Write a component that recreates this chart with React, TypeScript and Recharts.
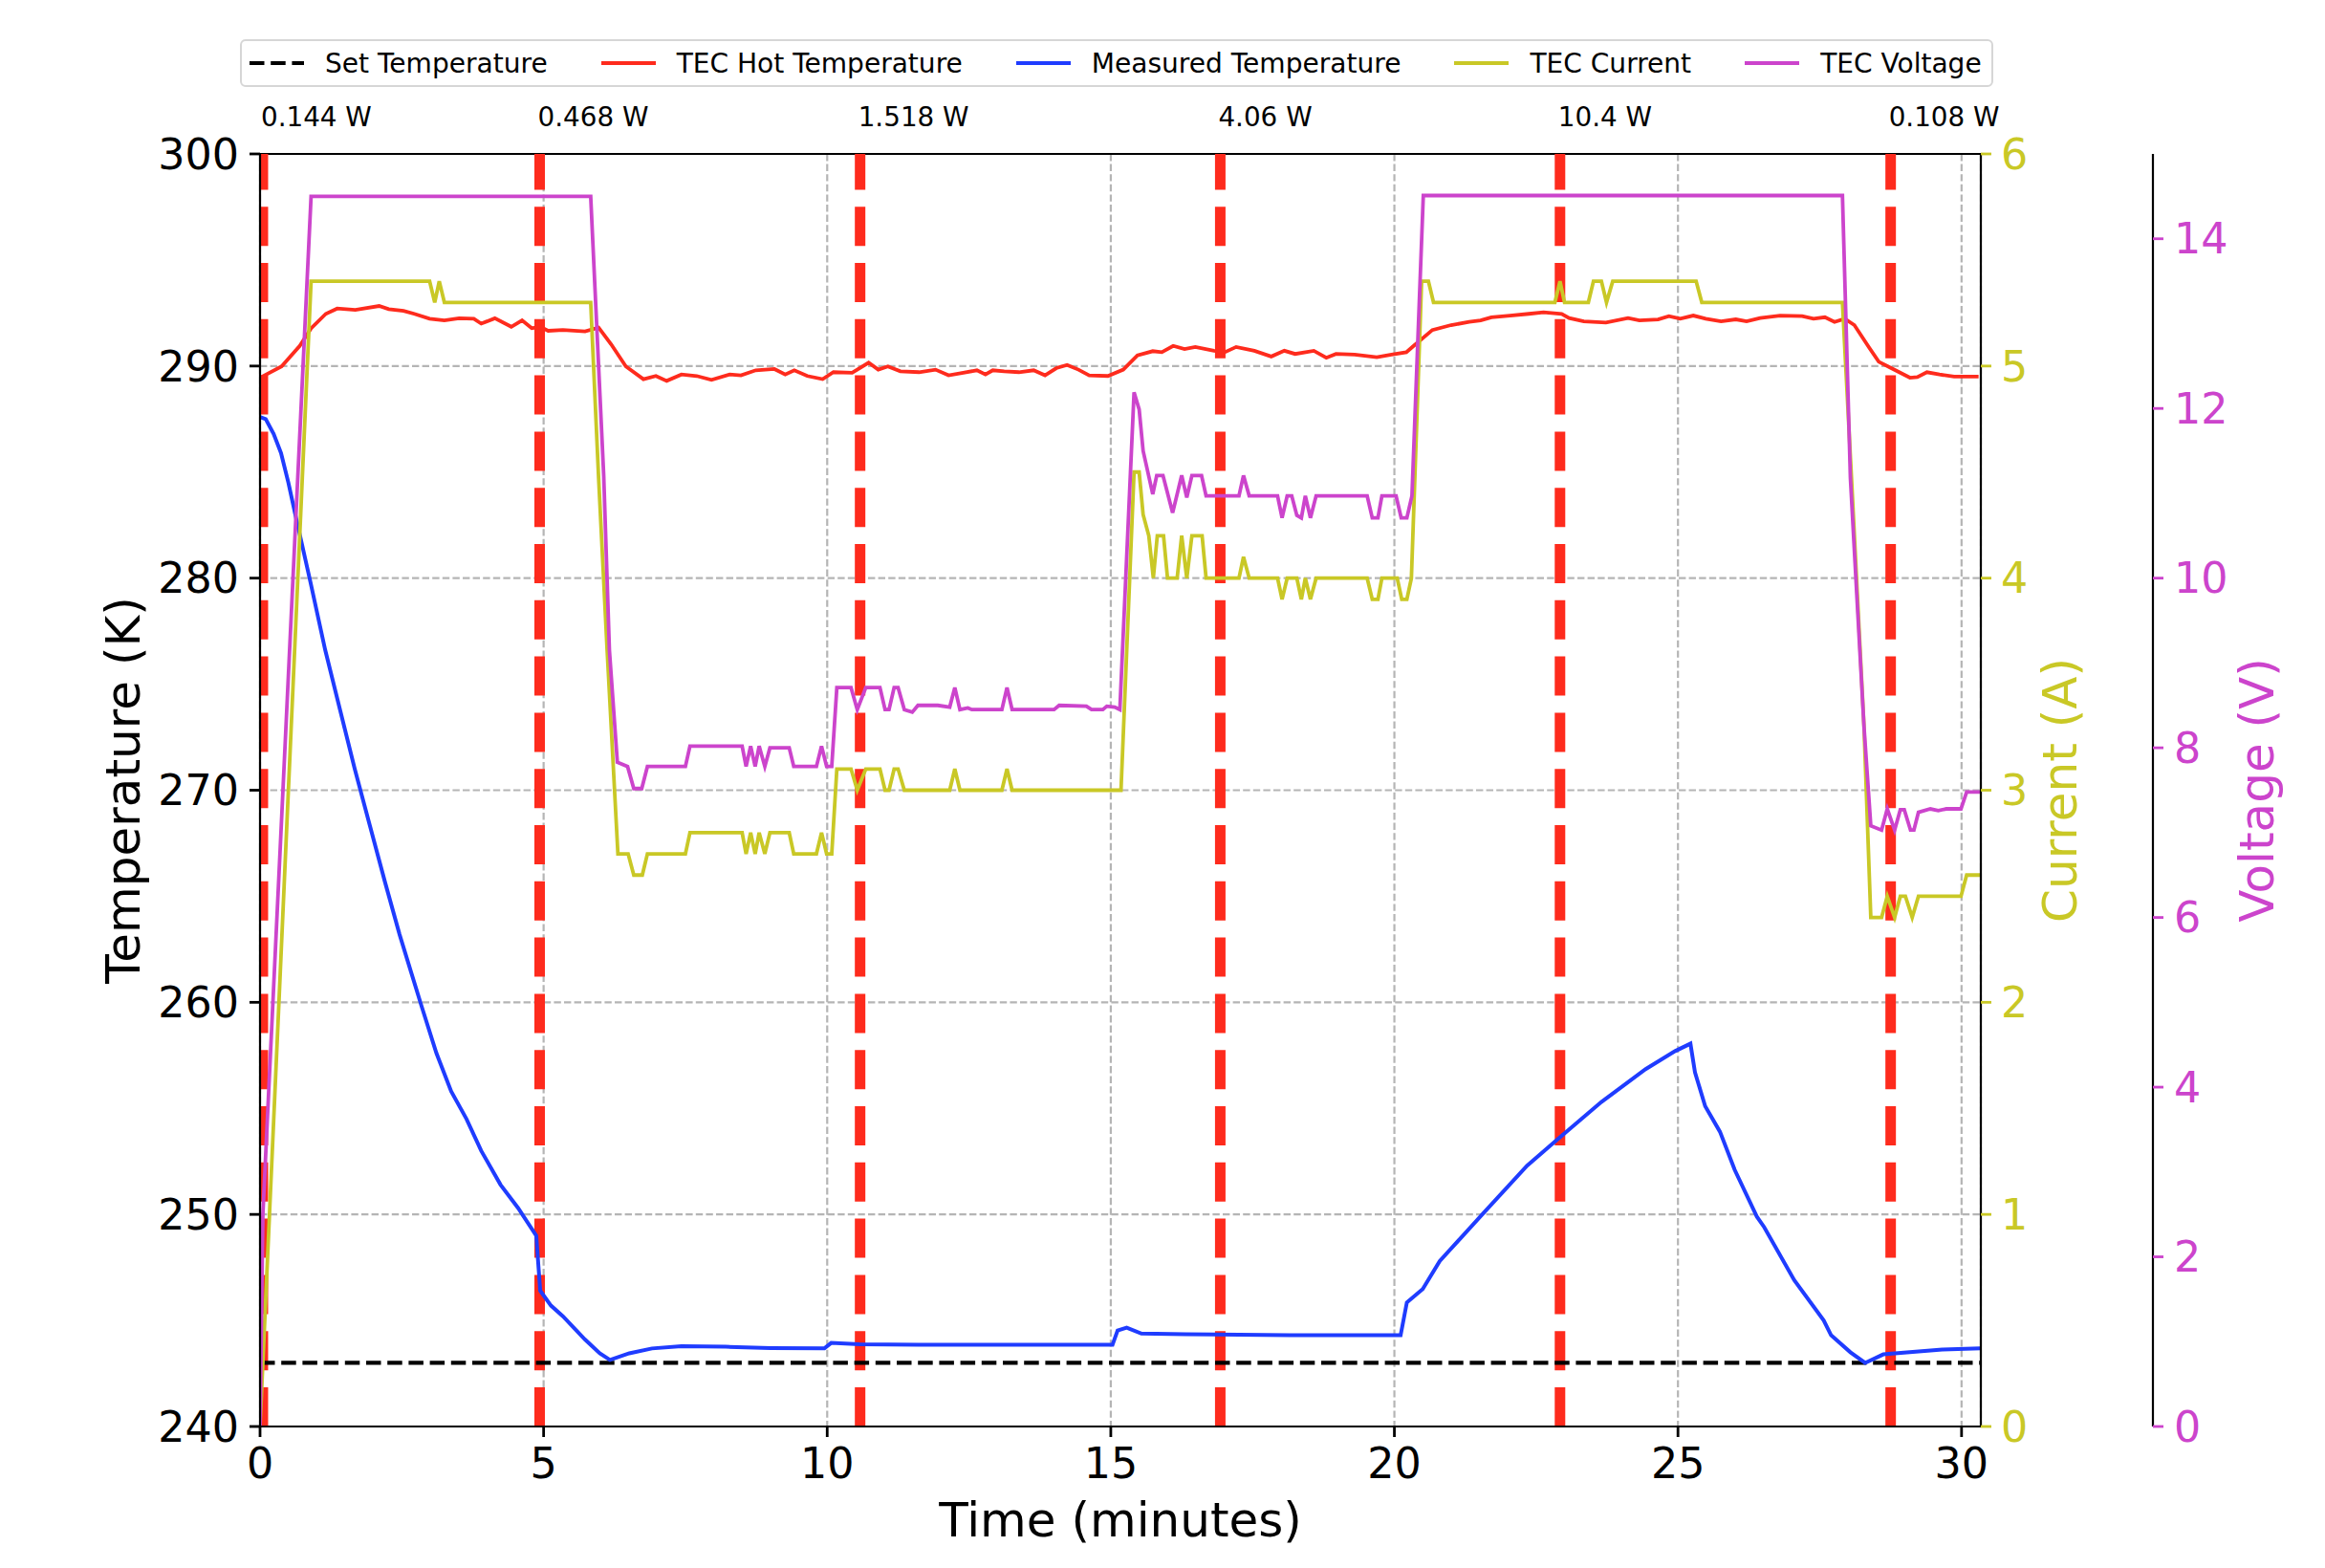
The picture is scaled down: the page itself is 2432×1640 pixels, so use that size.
import React from 'react';
import { ComposedChart, Line, XAxis, YAxis, CartesianGrid, ReferenceLine, Label } from 'recharts';

const FONT = '"DejaVu Sans", Verdana, sans-serif';
const RED = '#fe2b1d';
const BLUE = '#1f3cff';
const OLIVE = '#c9c826';
const MAGENTA = '#cc44cc';
const GRID = '#b5b5b5';

// ---- tick labels ----
const timeTicks = [0, 5, 10, 15, 20, 25, 30];
const temperatureTicks = [240, 250, 260, 270, 280, 290, 300];
const currentTicks = [0, 1, 2, 3, 4, 5, 6];
const voltageTicks = [0, 2, 4, 6, 8, 10, 12, 14];

// ---- power steps (time in minutes, label) ----
const powerTimes = [0.05, 4.93, 10.58, 16.93, 22.92, 28.75];
const powerLabels = ['0.144 W', '0.468 W', '1.518 W', '4.06 W', '10.4 W', '0.108 W'];

// ---- series: [time (min), value] ----
const setTemperature: [number, number][] = [[0, 243], [30.34, 243]];

const hotTemperature: [number, number][] = [
  [0, 289.45], [0.38, 289.98], [0.7, 290.95], [0.9, 291.78], [1.16, 292.46], [1.36, 292.71],
  [1.68, 292.65], [2.1, 292.83], [2.27, 292.68], [2.53, 292.6], [2.72, 292.46], [2.99, 292.23],
  [3.25, 292.15], [3.51, 292.25], [3.77, 292.23], [3.9, 292.0], [4.14, 292.25], [4.43, 291.85],
  [4.62, 292.15], [4.79, 291.78], [4.94, 291.85], [5.08, 291.66], [5.34, 291.7], [5.73, 291.63],
  [5.97, 291.81], [6.19, 291.03], [6.45, 289.98], [6.76, 289.38], [6.98, 289.53], [7.17, 289.3],
  [7.43, 289.6], [7.7, 289.53], [7.96, 289.35], [8.28, 289.6], [8.48, 289.56], [8.74, 289.8],
  [9.07, 289.86], [9.26, 289.6], [9.42, 289.8], [9.65, 289.53], [9.92, 289.38], [10.11, 289.71],
  [10.44, 289.68], [10.73, 290.16], [10.9, 289.83], [11.07, 289.98], [11.29, 289.75], [11.62, 289.71],
  [11.91, 289.83], [12.14, 289.56], [12.4, 289.68], [12.64, 289.8], [12.79, 289.6], [12.92, 289.8],
  [13.12, 289.75], [13.38, 289.71], [13.64, 289.8], [13.84, 289.56], [14.04, 289.9], [14.23, 290.05],
  [14.43, 289.83], [14.62, 289.56], [14.95, 289.53], [15.22, 289.83], [15.47, 290.5], [15.74, 290.7],
  [15.9, 290.65], [16.1, 290.95], [16.3, 290.8], [16.49, 290.9], [16.82, 290.72], [17.01, 290.65],
  [17.21, 290.9], [17.53, 290.72], [17.83, 290.45], [18.06, 290.72], [18.25, 290.57], [18.58, 290.72],
  [18.8, 290.39], [18.97, 290.57], [19.3, 290.54], [19.69, 290.42], [19.95, 290.54], [20.21, 290.65],
  [20.34, 290.95], [20.67, 291.7], [21.0, 291.93], [21.32, 292.08], [21.52, 292.15], [21.71, 292.3],
  [22.04, 292.38], [22.37, 292.46], [22.63, 292.53], [22.95, 292.46], [23.08, 292.26], [23.34, 292.11],
  [23.73, 292.05], [24.12, 292.26], [24.32, 292.15], [24.65, 292.2], [24.84, 292.35], [25.04, 292.23],
  [25.27, 292.38], [25.49, 292.23], [25.76, 292.11], [26.02, 292.2], [26.21, 292.11], [26.45, 292.26],
  [26.8, 292.38], [27.19, 292.35], [27.39, 292.23], [27.59, 292.3], [27.76, 292.08], [27.94, 292.23],
  [28.11, 291.93], [28.37, 290.87], [28.54, 290.2], [28.76, 289.9], [29.09, 289.45], [29.22, 289.48],
  [29.39, 289.71], [29.61, 289.6], [29.87, 289.5], [30.3, 289.5],
];

const measuredTemperature: [number, number][] = [
  [0, 287.6], [0.1, 287.5], [0.24, 286.8], [0.37, 285.9], [0.5, 284.5], [0.63, 282.9], [0.89, 279.8],
  [1.15, 276.6], [1.41, 273.8], [1.67, 271.0], [1.94, 268.3], [2.2, 265.7], [2.46, 263.2], [2.62, 261.8],
  [2.85, 259.8], [3.11, 257.6], [3.37, 255.8], [3.64, 254.5], [3.9, 253.0], [4.24, 251.4], [4.55, 250.3],
  [4.87, 249.0], [4.94, 246.4], [5.13, 245.7], [5.34, 245.2], [5.73, 244.1], [5.99, 243.45], [6.17, 243.14],
  [6.51, 243.45], [6.91, 243.68], [7.43, 243.79], [8.21, 243.76], [9.0, 243.7], [9.95, 243.68],
  [10.07, 243.94], [10.57, 243.88], [11.61, 243.85], [13.7, 243.85], [15.03, 243.85], [15.12, 244.53],
  [15.28, 244.66], [15.54, 244.38], [16.32, 244.35], [18.15, 244.3], [20.11, 244.3], [20.22, 245.85],
  [20.5, 246.48], [20.8, 247.8], [21.55, 250.0], [22.34, 252.3], [22.86, 253.5], [23.65, 255.3],
  [24.43, 256.85], [24.95, 257.7], [25.22, 258.05], [25.3, 256.7], [25.48, 255.1], [25.74, 253.9],
  [26.0, 252.1], [26.39, 249.9], [26.52, 249.4], [27.05, 246.9], [27.57, 245.0], [27.7, 244.3],
  [28.04, 243.5], [28.3, 243.0], [28.62, 243.4], [29.14, 243.52], [29.66, 243.63], [30.33, 243.68],
];

const tecCurrent: [number, number][] = [
  [0, 0], [0.9, 5.4], [2.99, 5.4], [3.08, 5.3], [3.16, 5.4], [3.25, 5.3], [5.83, 5.3], [5.97, 4.47],
  [6.12, 3.66], [6.31, 2.7], [6.49, 2.7], [6.59, 2.6], [6.74, 2.6], [6.83, 2.7], [7.5, 2.7], [7.58, 2.8],
  [8.5, 2.8], [8.57, 2.7], [8.65, 2.8], [8.73, 2.7], [8.8, 2.8], [8.9, 2.7], [8.99, 2.8], [9.33, 2.8],
  [9.41, 2.7], [9.81, 2.7], [9.9, 2.8], [9.99, 2.7], [10.08, 2.7], [10.17, 3.1], [10.42, 3.1], [10.53, 3.0],
  [10.68, 3.1], [10.93, 3.1], [11.02, 3.0], [11.09, 3.0], [11.18, 3.1], [11.25, 3.1], [11.36, 3.0],
  [12.16, 3.0], [12.25, 3.1], [12.34, 3.0], [13.08, 3.0], [13.17, 3.1], [13.26, 3.0], [15.18, 3.0],
  [15.41, 4.5], [15.5, 4.5], [15.57, 4.3], [15.67, 4.2], [15.75, 4.0], [15.82, 4.2], [15.93, 4.2],
  [16.0, 4.0], [16.17, 4.0], [16.25, 4.2], [16.34, 4.0], [16.43, 4.2], [16.61, 4.2], [16.68, 4.0],
  [17.26, 4.0], [17.34, 4.1], [17.44, 4.0], [17.94, 4.0], [18.02, 3.9], [18.11, 4.0], [18.28, 4.0],
  [18.36, 3.9], [18.43, 4.0], [18.52, 3.9], [18.62, 4.0], [19.52, 4.0], [19.61, 3.9], [19.71, 3.9],
  [19.78, 4.0], [20.05, 4.0], [20.13, 3.9], [20.22, 3.9], [20.3, 4.0], [20.48, 5.4], [20.6, 5.4],
  [20.69, 5.3], [22.83, 5.3], [22.92, 5.4], [23.0, 5.3], [23.42, 5.3], [23.51, 5.4], [23.65, 5.4],
  [23.74, 5.3], [23.85, 5.4], [25.32, 5.4], [25.42, 5.3], [27.9, 5.3], [28.06, 4.47], [28.28, 3.3],
  [28.4, 2.4], [28.59, 2.4], [28.69, 2.5], [28.82, 2.4], [28.92, 2.5], [29.01, 2.5], [29.13, 2.4],
  [29.24, 2.5], [29.99, 2.5], [30.09, 2.6], [30.33, 2.6],
];

const tecVoltage: [number, number][] = [
  [0, 0], [0.05, 2.5], [0.9, 14.5], [5.83, 14.5], [6.06, 11.2], [6.16, 9.15], [6.3, 7.83], [6.48, 7.78],
  [6.59, 7.52], [6.73, 7.52], [6.83, 7.78], [7.5, 7.78], [7.58, 8.02], [8.5, 8.02], [8.57, 7.78],
  [8.65, 8.02], [8.73, 7.78], [8.8, 8.02], [8.9, 7.78], [8.99, 8.0], [9.33, 8.0], [9.41, 7.78],
  [9.81, 7.78], [9.9, 8.02], [9.99, 7.78], [10.08, 7.78], [10.17, 8.71], [10.42, 8.71], [10.53, 8.45],
  [10.68, 8.71], [10.93, 8.71], [11.02, 8.45], [11.09, 8.45], [11.18, 8.71], [11.25, 8.71], [11.36, 8.45],
  [11.5, 8.42], [11.6, 8.5], [11.95, 8.5], [12.16, 8.48], [12.25, 8.71], [12.34, 8.45], [12.48, 8.47],
  [12.55, 8.45], [13.08, 8.45], [13.17, 8.71], [13.26, 8.45], [14.0, 8.45], [14.09, 8.5], [14.57, 8.49],
  [14.66, 8.45], [14.86, 8.45], [14.93, 8.49], [15.07, 8.48], [15.16, 8.45], [15.41, 12.19], [15.5, 11.99],
  [15.57, 11.5], [15.74, 10.99], [15.81, 11.21], [15.92, 11.21], [16.09, 10.77], [16.25, 11.21],
  [16.34, 10.95], [16.43, 11.21], [16.6, 11.21], [16.68, 10.97], [17.26, 10.97], [17.34, 11.21],
  [17.44, 10.97], [17.94, 10.97], [18.02, 10.71], [18.11, 10.97], [18.19, 10.97], [18.28, 10.74],
  [18.36, 10.71], [18.43, 10.97], [18.52, 10.71], [18.62, 10.97], [19.52, 10.97], [19.61, 10.71],
  [19.71, 10.71], [19.78, 10.97], [20.03, 10.97], [20.12, 10.71], [20.22, 10.71], [20.31, 10.97],
  [20.51, 14.51], [27.9, 14.51], [28.04, 11.18], [28.28, 8.25], [28.4, 7.08], [28.59, 7.03], [28.69, 7.28],
  [28.82, 7.03], [28.92, 7.27], [28.99, 7.27], [29.1, 7.03], [29.16, 7.03], [29.24, 7.24], [29.45, 7.28],
  [29.59, 7.26], [29.73, 7.28], [29.99, 7.28], [30.09, 7.48], [30.33, 7.48],
];

const toRows = (pairs: [number, number][]) => pairs.map(([t, v]) => ({ t, v }));

const legendItems = [
  { name: 'Set Temperature', color: '#000000', dash: '15.5 6.7' },
  { name: 'TEC Hot Temperature', color: RED, dash: undefined },
  { name: 'Measured Temperature', color: BLUE, dash: undefined },
  { name: 'TEC Current', color: OLIVE, dash: undefined },
  { name: 'TEC Voltage', color: MAGENTA, dash: undefined },
];

const TICK_FONT = 44.4;
const LABEL_FONT = 50;
const SMALL_FONT = 27.8;
const LEGEND_FONT = 28.05;

function AxisTitle(props: any) {
  const { viewBox, text, color, dx, vertical, dy } = props;
  if (!viewBox) return null;
  if (vertical) {
    const x = viewBox.x + dx;
    const y = viewBox.y + viewBox.height / 2;
    return (
      <text x={x} y={y} transform={`rotate(-90 ${x} ${y})`} textAnchor="middle"
        fill={color} fontSize={LABEL_FONT} fontFamily={FONT}>{text}</text>
    );
  }
  const x = viewBox.x + viewBox.width / 2;
  const y = viewBox.y + dy;
  return (
    <text x={x} y={y} textAnchor="middle" fill={color} fontSize={LABEL_FONT} fontFamily={FONT}>{text}</text>
  );
}

function PowerLabel(props: any) {
  const { viewBox, text } = props;
  if (!viewBox) return null;
  return (
    <text x={viewBox.x - 2} y={viewBox.y - 29} textAnchor="start" fill="#000"
      fontSize={SMALL_FONT} fontFamily={FONT}>{text}</text>
  );
}

export default function App() {
  return (
    <div style={{ position: 'absolute', left: 0, top: 0, width: 2432, height: 1640, background: '#fff', fontFamily: FONT }}>
      <div style={{ position: 'absolute', left: 0, top: 0 }}>
        <ComposedChart width={2432} height={1640} margin={{ top: 161, right: 60, bottom: 88, left: 132 }}>
          <CartesianGrid yAxisId="temp" stroke={GRID} strokeWidth={2.2} strokeDasharray="7.4 3.2" />
          <XAxis type="number" dataKey="t" domain={[0, 30.34]} ticks={timeTicks} allowDataOverflow
            height={60} stroke="#000" axisLine={{ stroke: '#000', strokeWidth: 2.2 }}
            tickLine={{ stroke: '#000', strokeWidth: 2.8 }} tickSize={11} tickMargin={11}
            tick={{ fill: '#000', fontSize: TICK_FONT, fontFamily: FONT }} interval={0}>
            <Label content={(p: any) => <AxisTitle {...p} text="Time (minutes)" color="#000" dy={115} />} />
          </XAxis>
          <YAxis yAxisId="temp" orientation="left" domain={[240, 300]} ticks={temperatureTicks} width={140}
            allowDataOverflow stroke="#000" axisLine={{ stroke: '#000', strokeWidth: 2.2 }}
            tickLine={{ stroke: '#000', strokeWidth: 2.8 }} tickSize={11} tickMargin={11}
            tick={{ fill: '#000', fontSize: TICK_FONT, fontFamily: FONT }} interval={0}>
            <Label content={(p: any) => <AxisTitle {...p} text="Temperature (K)" color="#000" dx={13.5} vertical />} />
          </YAxis>
          <YAxis yAxisId="current" orientation="right" domain={[0, 6]} ticks={currentTicks} width={180}
            allowDataOverflow stroke="#000" axisLine={{ stroke: '#000', strokeWidth: 2.2 }}
            tickLine={{ stroke: OLIVE, strokeWidth: 2.8 }} tickSize={11} tickMargin={10}
            tick={{ fill: OLIVE, fontSize: TICK_FONT, fontFamily: FONT }} interval={0}>
            <Label content={(p: any) => <AxisTitle {...p} text="Current (A)" color={OLIVE} dx={100} vertical />} />
          </YAxis>
          <YAxis yAxisId="voltage" orientation="right" domain={[0, 15]} ticks={voltageTicks} width={120}
            allowDataOverflow stroke="#000" axisLine={{ stroke: '#000', strokeWidth: 2.2 }}
            tickLine={{ stroke: MAGENTA, strokeWidth: 2.8 }} tickSize={11} tickMargin={11}
            tick={{ fill: MAGENTA, fontSize: TICK_FONT, fontFamily: FONT }} interval={0}>
            <Label content={(p: any) => <AxisTitle {...p} text="Voltage (V)" color={MAGENTA} dx={126} vertical />} />
          </YAxis>

          <ReferenceLine yAxisId="temp" y={300} stroke="#000" strokeWidth={2.2} />
          {powerTimes.map((pt, i) => (
            <ReferenceLine key={`p${i}`} yAxisId="temp" x={pt} stroke={RED} strokeWidth={11}
              strokeDasharray="41 17.8" ifOverflow="hidden"
              label={(p: any) => <PowerLabel {...p} text={powerLabels[i]} />} />
          ))}

          <Line yAxisId="temp" data={toRows(setTemperature)} dataKey="v" type="linear" stroke="#000"
            strokeWidth={4.2} strokeDasharray="15.5 6.7" dot={false} activeDot={false} isAnimationActive={false} />
          <Line yAxisId="temp" data={toRows(hotTemperature)} dataKey="v" type="linear" stroke={RED}
            strokeWidth={3.8} dot={false} activeDot={false} isAnimationActive={false} />
          <Line yAxisId="temp" data={toRows(measuredTemperature)} dataKey="v" type="linear" stroke={BLUE}
            strokeWidth={4} dot={false} activeDot={false} isAnimationActive={false} />
          <Line yAxisId="current" data={toRows(tecCurrent)} dataKey="v" type="linear" stroke={OLIVE}
            strokeWidth={3.8} dot={false} activeDot={false} isAnimationActive={false} />
          <Line yAxisId="voltage" data={toRows(tecVoltage)} dataKey="v" type="linear" stroke={MAGENTA}
            strokeWidth={3.8} dot={false} activeDot={false} isAnimationActive={false} />
        </ComposedChart>
      </div>

      <div style={{
        position: 'absolute', left: 251, top: 41, width: 1834, height: 50, boxSizing: 'border-box',
        border: '2px solid #d6d6d6', borderRadius: 6, display: 'flex', alignItems: 'center',
        paddingLeft: 8, fontSize: LEGEND_FONT, color: '#000', whiteSpace: 'nowrap', background: '#fff',
      }}>
        {legendItems.map((it, i) => (
          <div key={it.name} style={{ display: 'flex', alignItems: 'center', marginLeft: i ? 56 : 0 }}>
            <svg width={57} height={12} style={{ display: 'block' }}>
              <line x1={0} y1={6} x2={57} y2={6} stroke={it.color} strokeWidth={4.2}
                strokeDasharray={it.dash} />
            </svg>
            <span style={{ marginLeft: 22 }}>{it.name}</span>
          </div>
        ))}
      </div>
    </div>
  );
}
